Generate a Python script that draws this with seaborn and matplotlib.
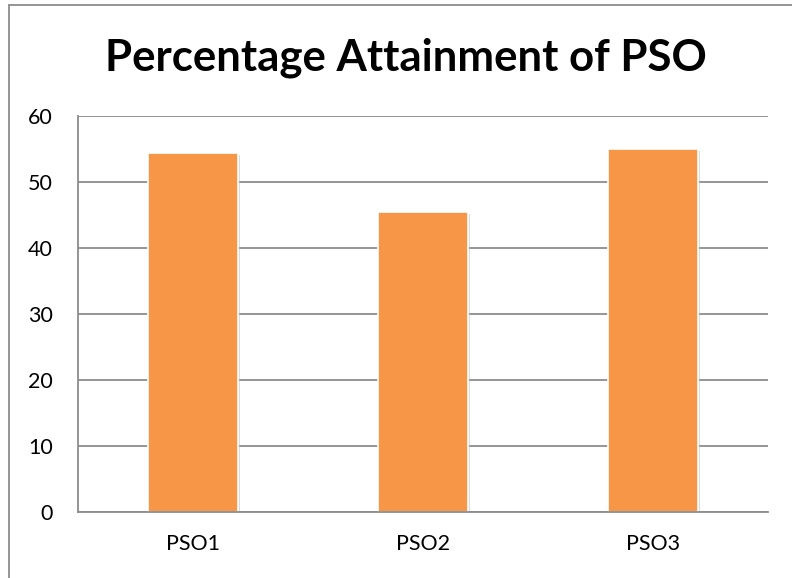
import matplotlib
matplotlib.use("Agg")
import matplotlib.pyplot as plt
import matplotlib.patheffects as pe
from matplotlib.lines import Line2D
import seaborn as sns
import pandas as pd

# ====================
# DATA
# ====================
categories = ["PSO1", "PSO2", "PSO3"]
attainment = [54.4, 45.4, 55.0]
y_ticks = [0, 10, 20, 30, 40, 50, 60]
title = "Percentage Attainment of PSO"

df = pd.DataFrame({"PSO": categories, "Attainment": attainment})

# ====================
# STYLE
# ====================
sns.set_style("white")
plt.rcParams["font.family"] = ["Lato", "DejaVu Sans"]

fig = plt.figure(figsize=(7.92, 5.78), dpi=100)
ax = fig.add_axes([78 / 792, 66 / 578, 690 / 792, 396 / 578])

sns.barplot(data=df, x="PSO", y="Attainment", color="#F79646",
            saturation=1, width=0.394, ax=ax,
            edgecolor="white", linewidth=1.2)

for bar in ax.patches:
    bar.set_path_effects([
        pe.SimplePatchShadow(offset=(1.5, -1.5), shadow_rgbFace="#bbbbbb", alpha=0.5),
        pe.Normal(),
    ])

ax.set_ylim(0, 60)
ax.set_yticks(y_ticks)
ax.set_xlim(-0.5, 2.5)
ax.yaxis.grid(True, color="#8c8c8c", linewidth=1.3)
ax.set_axisbelow(True)

for side in ["top", "right"]:
    ax.spines[side].set_visible(False)
for side in ["left", "bottom"]:
    ax.spines[side].set_color("#8c8c8c")
    ax.spines[side].set_linewidth(1.3)

ax.tick_params(axis="y", length=0, pad=18, labelsize=15.5, labelcolor="black")
ax.tick_params(axis="x", length=0, pad=16, labelsize=15.5, labelcolor="black")
ax.set_xlabel("")
ax.set_ylabel("")

fig.text(406 / 792, 1 - 58 / 578, title, ha="center", va="center",
         fontsize=31.5, fontweight="bold", color="black")

# chart border (cropped on right/bottom)
fig.add_artist(Line2D([9 / 792, 1], [1 - 5 / 578, 1 - 5 / 578],
                      color="#8c8c8c", linewidth=1.3, transform=fig.transFigure))
fig.add_artist(Line2D([9 / 792, 9 / 792], [0, 1 - 5 / 578],
                      color="#8c8c8c", linewidth=1.3, transform=fig.transFigure))

fig.savefig("out.png", dpi=100)
plt.close(fig)
